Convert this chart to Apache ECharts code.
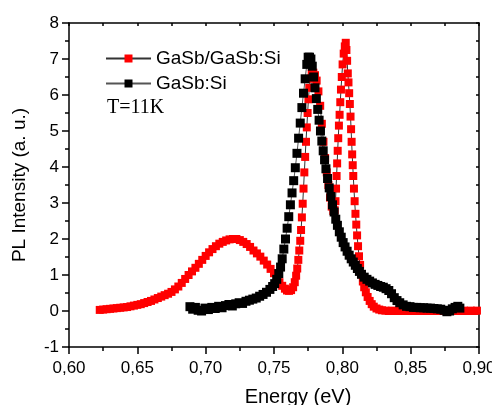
<!DOCTYPE html>
<html>
<head>
<meta charset="utf-8">
<script src="https://cdn.jsdelivr.net/npm/echarts@6/dist/echarts.min.js"></script>
<style>html,body{margin:0;padding:0;background:#fff}#c{width:492px;height:405px}</style>
</head>
<body>
<div id="c"></div>
<script>
// Series names
const seriesNames = ['GaSb/GaSb:Si', 'GaSb:Si'];
// X tick values and labels
const xTicks = [0.60, 0.65, 0.70, 0.75, 0.80, 0.85, 0.90];
const xTickLabels = ['0,60', '0,65', '0,70', '0,75', '0,80', '0,85', '0,90'];
const yTicks = [-1, 0, 1, 2, 3, 4, 5, 6, 7, 8];
const yTickLabels = ['-1', '0', '1', '2', '3', '4', '5', '6', '7', '8'];

// GaSb/GaSb:Si (red)
const redEnergy = [
0.6225,0.6250,0.6275,0.6300,0.6325,0.6350,0.6375,0.6400,0.6425,0.6450,0.6475,0.6500,0.6525,0.6550,0.6575,0.6600,0.6625,0.6650,0.6675,0.6700,
0.6725,0.6750,0.6775,0.6800,0.6825,0.6850,0.6875,0.6900,0.6925,0.6950,0.6975,0.7000,0.7025,0.7050,0.7075,0.7100,0.7125,0.7150,0.7175,0.7200,
0.7225,0.7250,0.7275,0.7300,0.7325,0.7350,0.7375,0.7400,0.7425,0.7450,0.7475,0.7500,0.7520,0.7540,0.7560,0.7580,0.7595,0.7610,0.7625,0.7640,
0.7652,0.7662,0.7670,0.7678,0.7685,0.7692,0.7698,0.7704,0.7710,0.7716,0.7722,0.7728,0.7734,0.7740,0.7746,0.7752,0.7758,0.7766,0.7776,0.7788,
0.7800,0.7812,0.7825,0.7838,0.7850,0.7862,0.7874,0.7886,0.7898,0.7910,0.7922,0.7934,0.7944,0.7950,0.7954,0.7958,0.7962,0.7966,0.7970,0.7975,
0.7980,0.7985,0.7990,0.7996,0.8002,0.8010,0.8018,0.8025,0.8030,0.8035,0.8040,0.8045,0.8050,0.8055,0.8060,0.8064,0.8068,0.8072,0.8076,0.8080,
0.8085,0.8090,0.8096,0.8102,0.8108,0.8115,0.8122,0.8130,0.8140,0.8150,0.8160,0.8172,0.8185,0.8200,0.8215,0.8230,0.8250,0.8270,0.8290,0.8315,
0.8340,0.8365,0.8390,0.8415,0.8440,0.8465,0.8490,0.8515,0.8540,0.8565,0.8590,0.8615,0.8640,0.8665,0.8690,0.8715,0.8740,0.8765,0.8790,0.8815,
0.8840,0.8865,0.8890,0.8915,0.8940,0.8965,0.8985
];
const redIntensity = [
0.03,0.04,0.05,0.06,0.07,0.08,0.09,0.10,0.11,0.13,0.15,0.17,0.19,0.22,0.25,0.28,0.32,0.36,0.40,0.44,
0.48,0.53,0.60,0.68,0.78,0.89,1.00,1.10,1.20,1.31,1.42,1.53,1.63,1.72,1.80,1.87,1.92,1.96,1.99,2.00,
2.00,1.97,1.92,1.86,1.78,1.68,1.60,1.51,1.40,1.29,1.17,1.05,0.93,0.80,0.70,0.62,0.57,0.56,0.58,0.66,
0.80,0.98,1.18,1.42,1.68,1.95,2.25,2.60,2.98,3.40,3.85,4.28,4.70,5.10,5.50,5.88,6.20,6.45,6.60,6.62,
6.55,6.40,6.10,5.70,5.20,4.70,4.25,3.85,3.50,3.15,2.90,2.78,2.80,3.05,3.40,3.75,4.10,4.45,4.80,5.15,
5.45,5.80,6.15,6.50,6.85,7.15,7.35,7.45,7.25,6.95,6.60,6.35,6.05,5.75,5.40,5.05,4.70,4.35,4.05,3.75,
3.40,3.05,2.70,2.40,2.10,1.80,1.52,1.28,1.02,0.82,0.66,0.52,0.39,0.28,0.19,0.12,0.07,0.04,0.02,0.01,
0.00,0.01,0.00,0.01,0.00,0.00,0.01,0.00,0.01,0.00,0.00,0.01,0.00,0.01,0.00,0.00,0.01,0.00,0.01,0.00,
0.01,0.00,0.01,0.00,0.01,0.00,0.01
];

// GaSb:Si (black)
const blackEnergy = [
0.6885,0.6905,0.6925,0.6945,0.6970,0.6995,0.7020,0.7045,0.7070,0.7095,0.7120,0.7145,0.7170,0.7195,0.7220,0.7245,0.7270,0.7295,0.7320,0.7345,
0.7370,0.7395,0.7420,0.7445,0.7470,0.7490,0.7505,0.7520,0.7535,0.7548,0.7560,0.7572,0.7584,0.7596,0.7608,0.7620,0.7632,0.7644,0.7656,0.7668,
0.7680,0.7692,0.7704,0.7716,0.7728,0.7740,0.7750,0.7760,0.7770,0.7780,0.7790,0.7800,0.7810,0.7820,0.7830,0.7840,0.7850,0.7860,0.7870,0.7880,
0.7892,0.7904,0.7916,0.7928,0.7940,0.7952,0.7964,0.7978,0.7992,0.8006,0.8020,0.8035,0.8050,0.8065,0.8080,0.8095,0.8110,0.8125,0.8140,0.8160,
0.8180,0.8200,0.8220,0.8240,0.8260,0.8280,0.8300,0.8320,0.8340,0.8360,0.8380,0.8400,0.8420,0.8445,0.8470,0.8495,0.8520,0.8545,0.8570,0.8595,
0.8620,0.8645,0.8670,0.8695,0.8720,0.8745,0.8765,0.8785,0.8805,0.8825,0.8845,0.8860
];
const blackIntensity = [
0.12,0.05,0.10,0.02,0.00,0.08,0.04,0.10,0.07,0.13,0.09,0.15,0.18,0.14,0.20,0.23,0.21,0.27,0.30,0.33,
0.36,0.41,0.46,0.52,0.60,0.68,0.76,0.88,1.04,1.22,1.45,1.72,2.00,2.30,2.62,2.95,3.28,3.62,3.98,4.38,
4.80,5.22,5.65,6.05,6.45,6.85,7.05,7.05,7.00,6.80,6.50,6.20,5.90,5.60,5.30,5.00,4.72,4.45,4.20,3.95,
3.68,3.42,3.18,2.95,2.75,2.55,2.38,2.20,2.05,1.90,1.78,1.66,1.55,1.45,1.36,1.27,1.18,1.10,1.02,0.94,
0.88,0.83,0.78,0.74,0.71,0.68,0.66,0.62,0.57,0.48,0.37,0.29,0.23,0.17,0.13,0.12,0.10,0.10,0.09,0.09,
0.08,0.08,0.07,0.06,0.05,0.02,-0.02,0.00,0.06,0.10,0.13,0.08
];

const redData = redEnergy.map((e, i) => [e, redIntensity[i]]);
const blackData = blackEnergy.map((e, i) => [e, blackIntensity[i]]);

const font = "'Liberation Sans', Arial, sans-serif";
const axisCol = '#000';
const chart = echarts.init(document.getElementById('c'), null, {renderer: 'canvas'});
chart.setOption({
  animation: false,
  backgroundColor: '#fff',
  grid: {left: 69, right: 13, top: 23, bottom: 58, containLabel: false, outerBoundsMode: 'none'},
  legend: {
    orient: 'vertical',
    left: 100, top: 44,
    itemWidth: 45, itemHeight: 10, itemGap: 6,
    textStyle: {fontFamily: font, fontSize: 19, color: '#000'},
    data: seriesNames
  },
  xAxis: [{
    type: 'value', min: 0.6, max: 0.9, interval: 0.05,
    name: 'Energy (eV)', nameLocation: 'middle', nameGap: 40,
    nameTextStyle: {fontFamily: font, fontSize: 20, color: '#000', padding: [0, 0, 0, 48]},
    axisLine: {onZero: false, lineStyle: {color: axisCol, width: 1.5}},
    axisTick: {inside: false, length: 7, lineStyle: {color: axisCol, width: 1.5}},
    minorTick: {show: true, splitNumber: 2, length: 4, lineStyle: {color: axisCol, width: 1.5}},
    axisLabel: {fontFamily: font, fontSize: 17, color: '#000', margin: 13,
      formatter: v => { const i = xTicks.findIndex(t => Math.abs(t - v) < 1e-6); return i >= 0 ? xTickLabels[i] : ''; }},
    splitLine: {show: false}
  }, {
    type: 'value', position: 'top', min: 0.6, max: 0.9, interval: 0.025,
    axisLine: {show: true, onZero: false, lineStyle: {color: axisCol, width: 1.5}},
    axisTick: {show: true, inside: true, length: 3, lineStyle: {color: axisCol, width: 1.5}},
    axisLabel: {show: false}, splitLine: {show: false}
  }],
  yAxis: [{
    type: 'value', min: -1, max: 8, interval: 1,
    name: 'PL Intensity (a. u.)', nameLocation: 'middle', nameGap: 40,
    nameTextStyle: {fontFamily: font, fontSize: 19, color: '#000'},
    axisLine: {show: true, onZero: false, lineStyle: {color: axisCol, width: 1.5}},
    axisTick: {show: true, inside: false, length: 7, lineStyle: {color: axisCol, width: 1.5}},
    minorTick: {show: true, splitNumber: 2, length: 4, lineStyle: {color: axisCol, width: 1.5}},
    axisLabel: {fontFamily: font, fontSize: 17, color: '#000', margin: 10,
      formatter: v => { const i = yTicks.findIndex(t => Math.abs(t - v) < 1e-6); return i >= 0 ? yTickLabels[i] : ''; }},
    splitLine: {show: false}
  }, {
    type: 'value', position: 'right', min: -1, max: 8, interval: 0.5,
    axisLine: {show: true, onZero: false, lineStyle: {color: axisCol, width: 1.5}},
    axisTick: {show: true, inside: true, length: 3, lineStyle: {color: axisCol, width: 1.5}},
    axisLabel: {show: false}, splitLine: {show: false}
  }],
  graphic: [{
    type: 'text', left: 107, top: 98,
    style: {text: 'T=11K', fontFamily: "'Liberation Serif', 'Times New Roman', serif", fontSize: 20, fill: '#000'}
  }],
  series: [{
    name: seriesNames[0], type: 'line', data: redData, xAxisIndex: 0, yAxisIndex: 0,
    symbol: 'rect', symbolSize: 8, showAllSymbol: true,
    lineStyle: {color: '#333', width: 1},
    itemStyle: {color: '#ff0000', borderWidth: 0},
    emphasis: {disabled: true}
  }, {
    name: seriesNames[1], type: 'line', data: blackData, xAxisIndex: 0, yAxisIndex: 0,
    symbol: 'rect', symbolSize: 9, showAllSymbol: true,
    lineStyle: {color: '#555', width: 1},
    itemStyle: {color: '#000', borderWidth: 0},
    emphasis: {disabled: true}
  }]
});
</script>
</body>
</html>
